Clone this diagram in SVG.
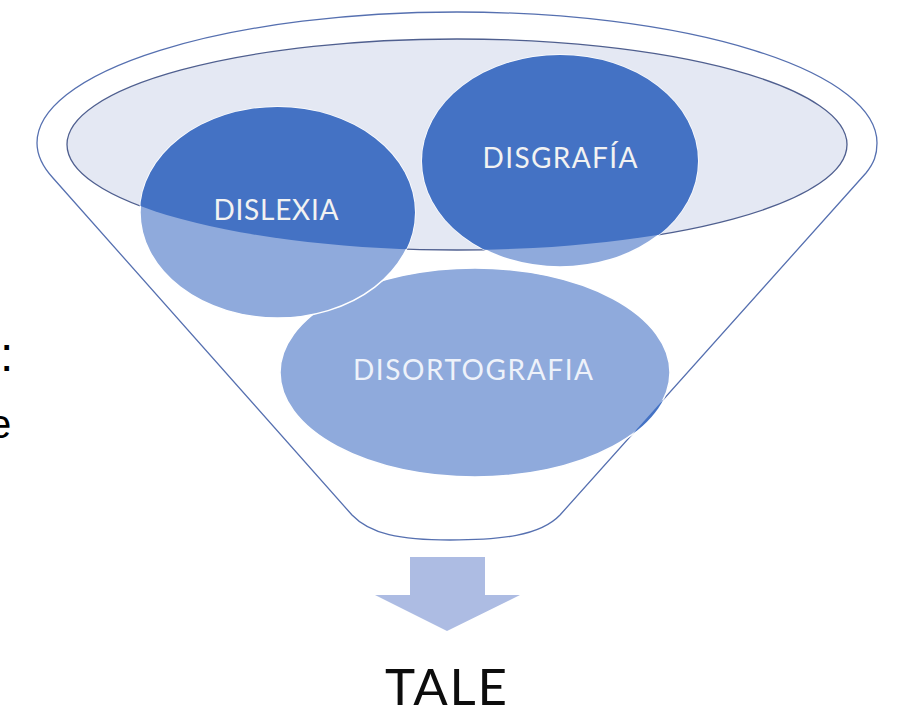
<svg xmlns="http://www.w3.org/2000/svg" width="897" height="707" viewBox="0 0 897 707">
  <style>
    .lbl { font-family: Lato, "Open Sans", "Liberation Sans", sans-serif; font-size: 28px; text-anchor: middle; }
    .circ { stroke: #ffffff; stroke-width: 1.5; }
    .light { fill: #8FAADC; }
    .dark { fill: #4472C4; }
    .side { font-family: "Liberation Sans", Arial, sans-serif; fill: #000000; }
  </style>
  <defs>
    <clipPath id="innerClip">
      <ellipse cx="457" cy="144.5" rx="390" ry="105.5"/>
    </clipPath>
    <clipPath id="outsideRight">
      <polygon points="866,173 560,515 560,707 897,707 897,173"/>
    </clipPath>
  </defs>
  <rect width="897" height="707" fill="#ffffff"/>

  <g id="side-text">
    <text class="side" x="0" y="371" font-size="48">:</text>
    <text class="side" x="-11" y="438" font-size="40">e</text>
  </g>

  <g id="funnel">
    <path d="M37,143 A420,131 0 0 1 877,143 C877,155 874,163 866,173 L560,515 C540,536 500,540 450,540 C400,540 370,534 352,515 L53,178 C42,166 37,155 37,143 Z" fill="#ffffff" stroke="#5670B0" stroke-width="1.3"/>
    <ellipse cx="457" cy="144.5" rx="390" ry="105.5" fill="#E4E8F3" stroke="#4F5F8F" stroke-width="1.3"/>
  </g>

  <g id="node-disortografia">
    <ellipse class="circ light" cx="475" cy="372.5" rx="195" ry="104.5"/>
    <ellipse cx="475" cy="372.5" rx="195" ry="104.5" fill="#4472C4" clip-path="url(#outsideRight)"/>
    <text class="lbl" x="473" y="380" fill="#EEF2FA" textLength="240">DISORTOGRAFIA</text>
  </g>

  <g id="node-dislexia">
    <ellipse class="circ light" cx="277.5" cy="212.5" rx="137.5" ry="105.5"/>
    <ellipse class="dark" cx="277.5" cy="212.5" rx="137.5" ry="105.5" clip-path="url(#innerClip)"/>
    <text class="lbl" x="276" y="220" fill="#F2F2F2" textLength="125">DISLEXIA</text>
  </g>

  <g id="node-disgrafia">
    <ellipse class="circ light" cx="560" cy="161" rx="138" ry="106"/>
    <ellipse class="dark" cx="560" cy="161" rx="138" ry="106" clip-path="url(#innerClip)"/>
    <text class="lbl" x="560" y="168" fill="#F2F2F2" textLength="155">DISGRAFÍA</text>
  </g>

  <g id="connectors">
    <polygon points="410,557 485,557 485,595 520,595 447,631 375,595 410,595" fill="#ADBCE3"/>
  </g>

  <g id="node-tale">
    <text x="446" y="705" font-family="Lato, 'Open Sans', 'Liberation Sans', sans-serif" font-size="51" text-anchor="middle" fill="#0D0D0D" textLength="122">TALE</text>
  </g>
</svg>
